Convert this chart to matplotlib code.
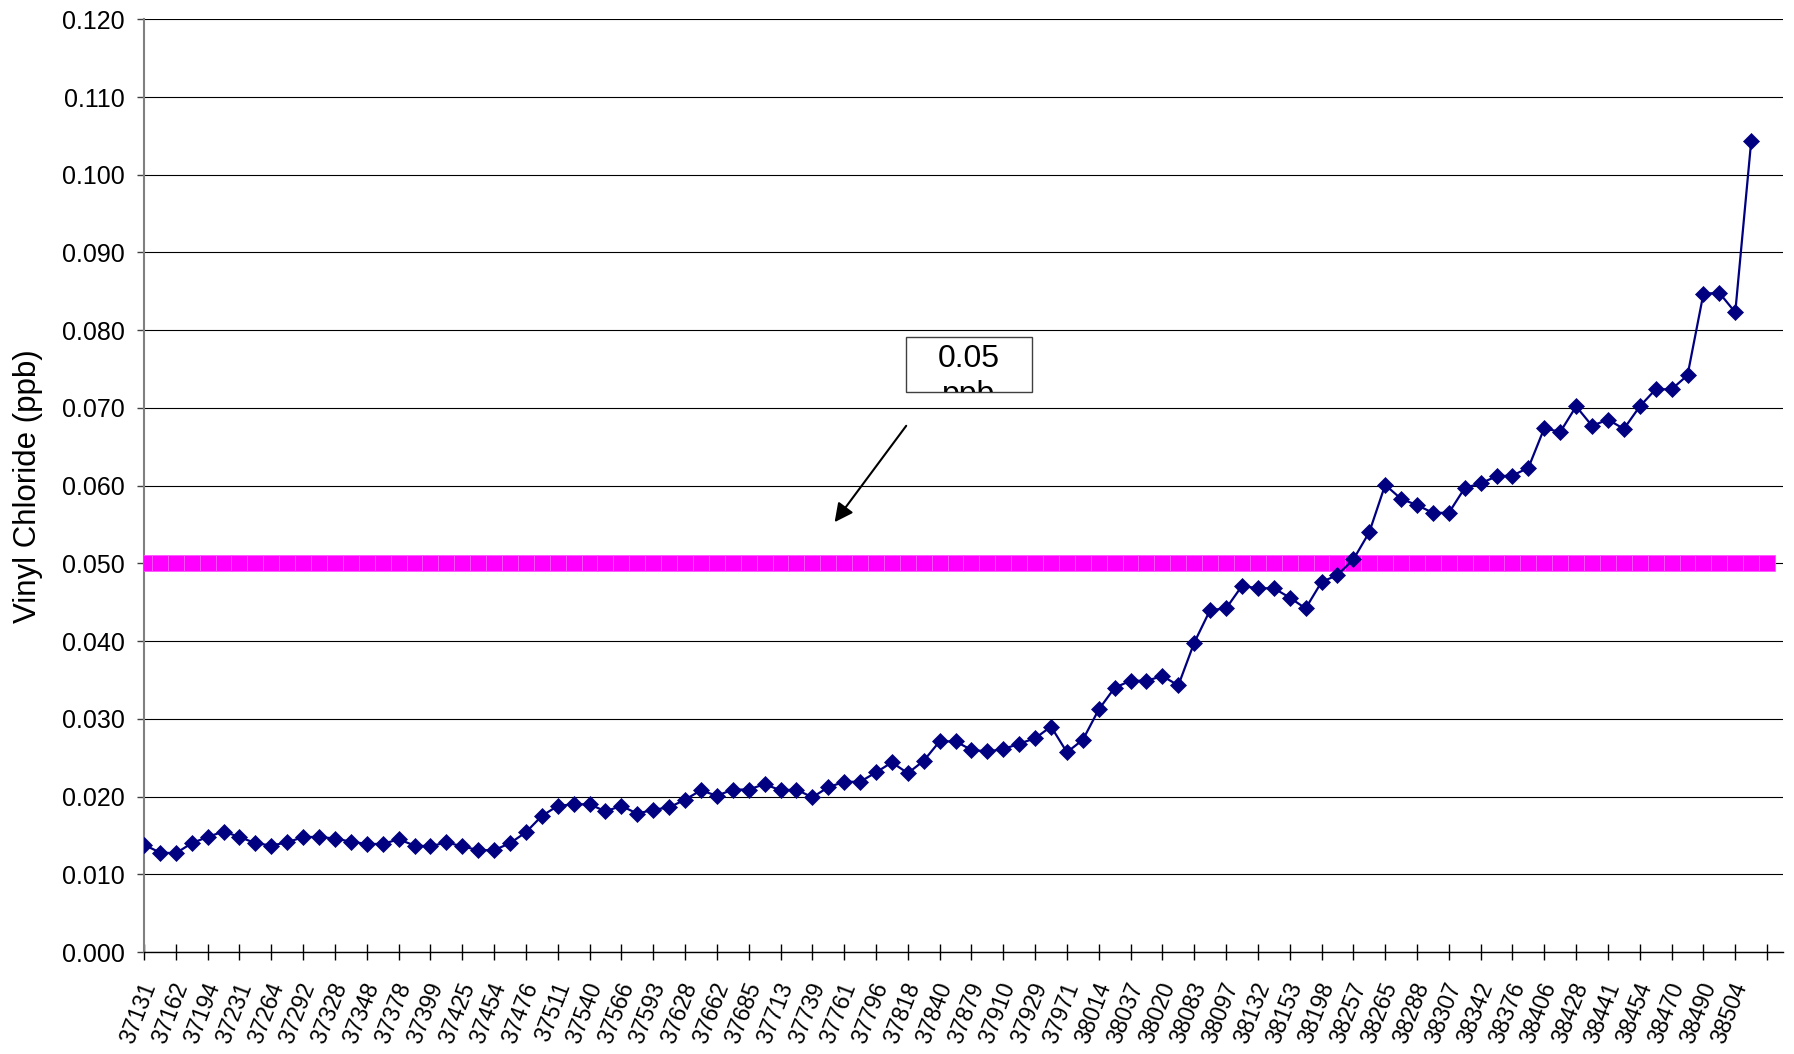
import matplotlib
matplotlib.use("Agg")
import matplotlib.pyplot as plt
from matplotlib.patches import Rectangle
from matplotlib.transforms import Bbox, TransformedBbox, ScaledTranslation

plt.rcParams['font.family'] = ['Liberation Sans', 'DejaVu Sans']

# sample dates (Excel serials), every second one is shown on the axis
date_labels = [
    "37131", "37162", "37194", "37231", "37264", "37292", "37328", "37348",
    "37378", "37399", "37425", "37454", "37476", "37511", "37540", "37566",
    "37593", "37628", "37662", "37685", "37713", "37739", "37761", "37796",
    "37818", "37840", "37879", "37910", "37929", "37971", "38014", "38037",
    "38020", "38083", "38097", "38132", "38153", "38198", "38257", "38265",
    "38288", "38307", "38342", "38376", "38406", "38428", "38441", "38454",
    "38470", "38490", "38504",
]

vinyl_chloride = [
    0.0138, 0.0128, 0.0127, 0.0140, 0.0148, 0.0155, 0.0148, 0.0140, 0.0137, 0.0141,
    0.0148, 0.0148, 0.0146, 0.0142, 0.0139, 0.0139, 0.0145, 0.0137, 0.0136, 0.0141,
    0.0136, 0.0131, 0.0131, 0.0140, 0.0154, 0.0175, 0.0188, 0.0190, 0.0190, 0.0181,
    0.0188, 0.0178, 0.0183, 0.0186, 0.0196, 0.0208, 0.0201, 0.0209, 0.0209, 0.0216,
    0.0208, 0.0209, 0.0199, 0.0212, 0.0219, 0.0219, 0.0231, 0.0244, 0.0230, 0.0246,
    0.0271, 0.0271, 0.0260, 0.0258, 0.0261, 0.0268, 0.0275, 0.0290, 0.0257, 0.0273,
    0.0312, 0.0340, 0.0349, 0.0349, 0.0355, 0.0343, 0.0398, 0.0440, 0.0442, 0.0471,
    0.0468, 0.0468, 0.0456, 0.0442, 0.0476, 0.0485, 0.0505, 0.0540, 0.0601, 0.0583,
    0.0575, 0.0565, 0.0565, 0.0597, 0.0603, 0.0612, 0.0613, 0.0623, 0.0674, 0.0669,
    0.0702, 0.0677, 0.0685, 0.0673, 0.0702, 0.0724, 0.0724, 0.0742, 0.0847, 0.0848,
    0.0823, 0.1043,
]

# 0.05 ppb limit series
limit = [0.05] * 103

fig = plt.figure(figsize=(17.94, 10.54), dpi=100)
ax = fig.add_axes([144 / 1794, (1054 - 952) / 1054, (1783 - 144) / 1794, (952 - 19.3) / 1054])

ax.plot(range(len(limit)), limit, color='#FF00FF', lw=2, marker='s', ms=11.2,
        mfc='#FF00FF', mec='#FF55FF', mew=0.6, zorder=3)
ax.plot(range(len(vinyl_chloride)), vinyl_chloride, color='#000080', lw=1.6,
        marker='D', ms=8.5, mfc='#000080', mec='#000080', mew=0.5, zorder=4)

ax.set_xlim(0, 103)
ax.set_ylim(0, 0.12)
ax.set_yticks([i / 100 for i in range(13)])
ax.set_yticklabels(["%.3f" % (i / 100) for i in range(13)])
ax.set_xticks(range(0, 103, 2))
ax.set_xticklabels(date_labels + [""], rotation=69, ha='right', va='center',
                   rotation_mode='anchor')

ax.yaxis.grid(True, color='black', lw=0.8)
ax.set_axisbelow(True)
for s in ['top', 'right']:
    ax.spines[s].set_visible(False)
ax.spines['left'].set_color('#808080')
ax.spines['left'].set_linewidth(1.5)
ax.spines['bottom'].set_color('black')
ax.spines['bottom'].set_linewidth(1)

ax.tick_params(axis='y', direction='out', length=5, width=1, color='#404040',
               labelsize=18, pad=9)
ax.tick_params(axis='x', direction='inout', length=12, width=1, color='black',
               labelsize=16.5, pad=10)

# put the tops of the slanted date labels ~75 px above the bottom edge,
# but never let them run off the picture
fig.canvas.draw()
boxes = [lab.get_window_extent() for lab in ax.get_xticklabels() if lab.get_text()]
top = max(b.y1 for b in boxes)
low = min(b.y0 for b in boxes)
dy = 75 - top
if low + dy < 0.5:
    dy = 0.5 - low
shift = ScaledTranslation(6 / 100, dy / 100, fig.dpi_scale_trans)
for lab in ax.get_xticklabels():
    lab.set_transform(lab.get_transform() + shift)

ax.set_ylabel("Vinyl Chloride (ppb)", fontsize=22.5)
ax.yaxis.set_label_coords(-0.0616, 0.5)

# label box for the limit line, second line cut off by the box
box = Rectangle((47.9, 0.0720), 7.9, 0.0071, facecolor='white', edgecolor='#404040',
                lw=1, zorder=5)
ax.add_patch(box)
ax.text(51.85, 0.0753, "0.05", fontsize=23, ha='center', va='baseline', zorder=6)
t2 = ax.text(51.85, 0.07058, "ppb", fontsize=23, ha='center', va='baseline', zorder=6)
t2.set_clip_box(TransformedBbox(Bbox.from_extents(47.9, 0.0720, 55.8, 0.0791), ax.transData))
t2.set_clip_on(True)

ax.annotate("", xy=(43.4, 0.0553), xytext=(47.9, 0.0677),
            arrowprops=dict(arrowstyle='-|>', color='black', lw=1.5,
                            mutation_scale=28, shrinkA=0, shrinkB=0))

fig.savefig("out.png", dpi=100)
